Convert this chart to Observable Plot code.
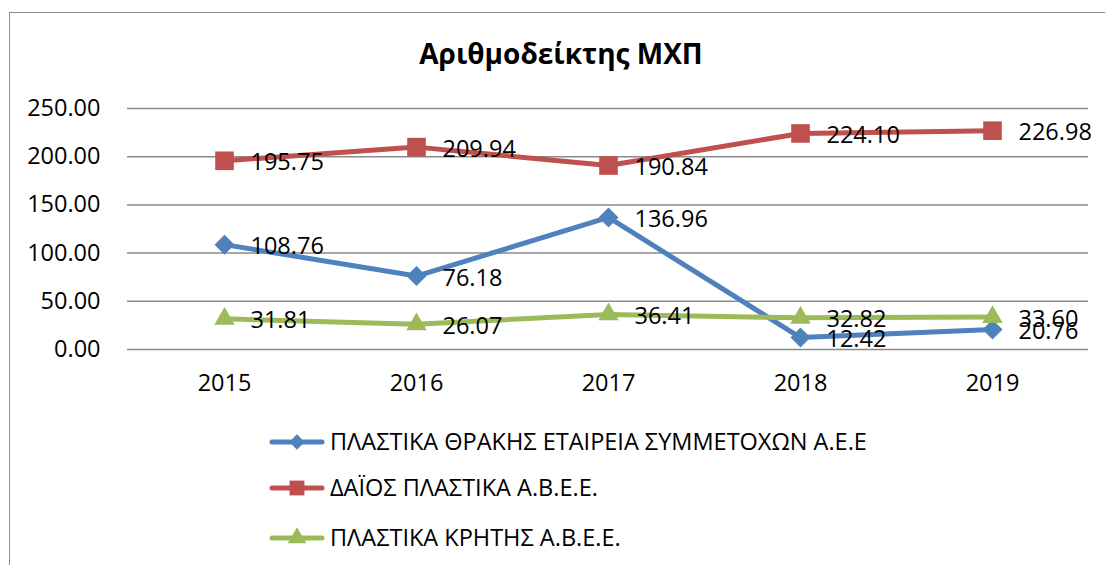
<!DOCTYPE html>
<html>
<head>
<meta charset="utf-8">
<script src="https://cdn.jsdelivr.net/npm/d3@7"></script>
<script src="https://cdn.jsdelivr.net/npm/@observablehq/plot@0.6"></script>
<style>
  html, body { margin: 0; padding: 0; background: #fff; }
  #wrap { position: relative; width: 1105px; height: 565px; overflow: hidden; background: #fff; font-family: "Open Sans", sans-serif; }
  #frame { position: absolute; left: 9px; top: 12px; width: 1300px; height: 800px; border-left: 1.5px solid #8c8c8c; border-top: 1.5px solid #8c8c8c; }
  #title { position: absolute; top: 34px; left: 0; width: 1122px; text-align: center; font-weight: bold; font-size: 28px; color: #000; }
  #chart { position: absolute; top: 80px; left: 0; }
  .lg-row { position: absolute; left: 0; height: 40px; width: 1105px; }
  .lg-row svg { position: absolute; left: 264px; top: 0; }
  .lg-row span { position: absolute; left: 330px; top: 4px; font-size: 23.5px; color: #000; white-space: nowrap; line-height: 30px; }
</style>
</head>
<body>
<div id="wrap">
  <div id="frame"></div>
  <div id="title">Αριθμοδείκτης ΜΧΠ</div>
  <div id="chart"></div>
  <div id="legend"></div>
</div>
<script>
const years = ["2015", "2016", "2017", "2018", "2019"];
const seriesNames = [
  "ΠΛΑΣΤΙΚΑ ΘΡΑΚΗΣ ΕΤΑΙΡΕΙΑ ΣΥΜΜΕΤΟΧΩΝ Α.Ε.Ε",
  "ΔΑΪΟΣ ΠΛΑΣΤΙΚΑ Α.Β.Ε.Ε.",
  "ΠΛΑΣΤΙΚΑ ΚΡΗΤΗΣ Α.Β.Ε.Ε."
];
const thrakiValues = [108.76, 76.18, 136.96, 12.42, 20.76];
const daiosValues = [195.75, 209.94, 190.84, 224.10, 226.98];
const kritiValues = [31.81, 26.07, 36.41, 32.82, 33.60];
const yTicks = [0, 50, 100, 150, 200, 250];

const colors = ["#4F81BD", "#C0504D", "#9BBB59"];
const symbols = ["diamond2", "square", "triangle"];
const radii = [9, 10.5, 7.6];
const valueLists = [thrakiValues, daiosValues, kritiValues];

const rows = [];
valueLists.forEach((vals, s) => {
  vals.forEach((v, i) => rows.push({series: seriesNames[s], year: years[i], value: v, s}));
});

const FS = 23.5;
const marks = [
  Plot.ruleY(yTicks, {stroke: "#8a8a8a", strokeWidth: 1.5}),
  Plot.axisY({ticks: yTicks, tickFormat: d => d.toFixed(2), tickSize: 0, tickPadding: 27, label: null, fontSize: FS}),
  Plot.axisX({tickSize: 0, tickPadding: 25, label: null, fontSize: FS})
];
seriesNames.forEach((name, s) => {
  const data = rows.filter(r => r.s === s);
  marks.push(Plot.line(data, {x: "year", y: "value", stroke: colors[s], strokeWidth: 5, strokeLinejoin: "round"}));
});
seriesNames.forEach((name, s) => {
  const data = rows.filter(r => r.s === s);
  marks.push(Plot.dot(data, {x: "year", y: "value", symbol: () => symbols[s], r: radii[s], fill: colors[s], stroke: "none"}));
});
marks.push(Plot.text(rows, {x: "year", y: "value", text: d => d.value.toFixed(2), dx: 26, dy: 2, textAnchor: "start", fontSize: FS, fill: "#000"}));

const chart = Plot.plot({
  width: 1105,
  height: 320,
  marginTop: 28,
  marginBottom: 51,
  marginLeft: 127,
  marginRight: 17,
  style: {fontFamily: "Open Sans", fontSize: FS + "px", color: "#000", background: "transparent"},
  x: {type: "point", domain: years, padding: 0.5},
  y: {domain: [0, 250]},
  symbol: {type: "identity"},
  marks
});
document.getElementById("chart").appendChild(chart);

// legend
const legend = document.getElementById("legend");
const rowCenters = [442, 488, 538];
seriesNames.forEach((name, s) => {
  const row = document.createElement("div");
  row.className = "lg-row";
  row.style.top = (rowCenters[s] - 20) + "px";
  const sym = symbols[s] === "diamond2" ? d3.symbolDiamond2 : symbols[s] === "square" ? d3.symbolSquare : d3.symbolTriangle;
  const size = s === 0 ? 150 : s === 1 ? 220 : 150;
  const path = d3.symbol(sym, size)();
  row.innerHTML = `<svg width="64" height="40"><line x1="8" x2="58" y1="20" y2="20" stroke="${colors[s]}" stroke-width="5" stroke-linecap="round"/><path d="${path}" transform="translate(33,20)" fill="${colors[s]}"/></svg><span>${name}</span>`;
  legend.appendChild(row);
});
</script>
</body>
</html>
